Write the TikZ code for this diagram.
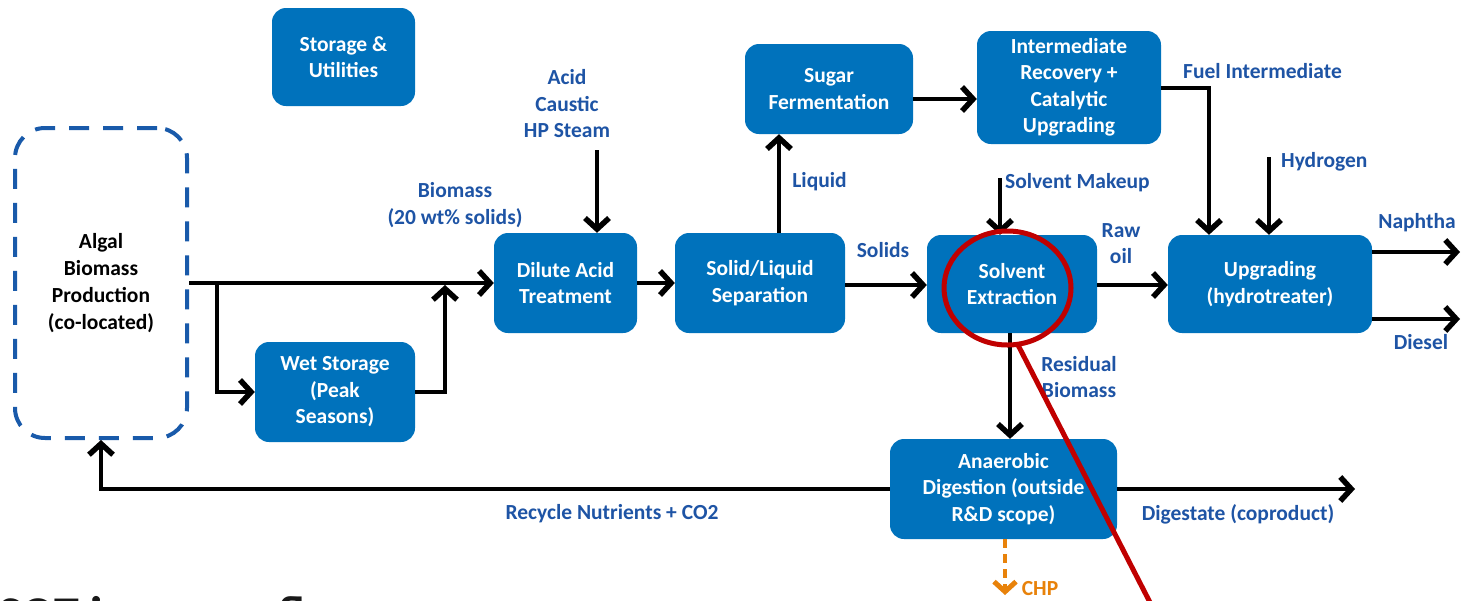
\documentclass[tikz,border=0pt]{standalone}
\usepackage{fontspec}
\setmainfont{Carlito}
\usetikzlibrary{arrows.meta}
\definecolor{boxblue}{RGB}{0,114,188}
\definecolor{lblblue}{RGB}{30,84,165}
\definecolor{dashblue}{RGB}{25,90,170}
\definecolor{chporange}{RGB}{232,130,10}
\definecolor{markred}{RGB}{192,0,0}
\begin{document}
\begin{tikzpicture}[x=1pt,y=-1pt,
  box/.style={fill=boxblue, rounded corners=14pt, text=white, align=center,
    font=\fontsize{21.5}{26.5}\selectfont\bfseries, inner sep=0pt},
  lbl/.style={text=lblblue, align=center,
    font=\fontsize{21.5}{26.5}\selectfont\bfseries, inner sep=0pt},
  flow/.style={line width=4pt, -{Straight Barb[length=11pt,width=24pt,line width=5.5pt]}},
  chpflow/.style={chporange, line width=4pt, dash pattern=on 9pt off 6pt,
    -{Straight Barb[length=10pt,width=22pt,line width=5pt]}}]
\clip (0,0) rectangle (1461,600);
\fill[white] (0,0) rectangle (1461,600);

% process blocks
\node[box, minimum width=143pt, minimum height=98pt] (stor) at (343.5,57) {Storage \&\\Utilities};
\node[draw=dashblue, line width=4pt, dash pattern=on 20pt off 14pt, rounded corners=30pt,
  minimum width=172pt, minimum height=310pt, inner sep=0pt, align=center,
  font=\fontsize{21.5}{27}\selectfont\bfseries] (alg) at (101,283)
  {Algal\\Biomass\\Production\\(co-located)};
\node[box, minimum width=160pt, minimum height=100pt] (wet) at (335,392) {Wet Storage\\(Peak\\Seasons)};
\node[box, minimum width=143pt, minimum height=100pt] (dil) at (565.5,283) {Dilute Acid\\Treatment};
\node[box, minimum width=170pt, minimum height=100pt] (sl) at (760,283) {Solid/Liquid\\Separation};
\node[box, minimum width=168pt, minimum height=90pt] (sug) at (829,89) {Sugar\\Fermentation};
\node[box, minimum width=184pt, minimum height=113pt] (int) at (1069,87.5) {Intermediate\\Recovery +\\Catalytic\\Upgrading};
\node[box, minimum width=170pt, minimum height=98pt] (solv) at (1012,284) {Solvent\\Extraction};
\node[box, minimum width=204pt, minimum height=98pt] (upg) at (1270,284) {Upgrading\\(hydrotreater)};
\node[box, minimum width=227pt, minimum height=100pt] (ana) at (1003.5,489) {Anaerobic\\Digestion (outside\\R\&D scope)};

% free ends of streams
\coordinate (br1) at (217,283);
\coordinate (br2) at (445,285);
\coordinate (acidin) at (597,150);
\coordinate (makeup) at (1000,178);
\coordinate (h2in) at (1269,157);
\coordinate (naph) at (1460,252);
\coordinate (dies) at (1460,319);
\coordinate (dig) at (1355,489);
\coordinate (chp) at (1005,595);

% streams
\draw[flow] (alg.east) -- (dil.west);
\draw[flow] (br1) |- (wet.west);
\draw[flow] (wet.east) -| (br2);
\draw[flow] (acidin) -- (acidin |- dil.north);
\draw[flow] (dil.east) -- (sl.west);
\draw[flow] ([xshift=19pt]sl.north) -- ([xshift=19pt]sl.north |- sug.south);
\draw[flow] ([yshift=-10pt]sug.east) -- ([yshift=-10pt]sug.east -| int.west);
\draw[flow] ([yshift=-2pt]sl.east) -- ([yshift=-2pt]sl.east -| solv.west);
\draw[flow] (makeup) -- (makeup |- solv.north);
\draw[flow] (int.east) -| ([xshift=-61pt]upg.north);
\draw[flow] (h2in) -- (h2in |- upg.north);
\draw[flow] ([yshift=-1pt]solv.east) -- ([yshift=-1pt]solv.east -| upg.west);
\draw[flow] (naph -| upg.east) -- (naph);
\draw[flow] (dies -| upg.east) -- (dies);
\draw[flow] ([xshift=-2pt]solv.south) -- ([xshift=-2pt]solv.south |- ana.north);
\draw[flow] (ana.east) -- (dig);
\draw[flow] (ana.west) -| (alg.south);
\draw[chpflow] (chp |- ana.south) -- (chp);

% stream labels
\node[lbl] (lbio) at (455,205) {Biomass\\(20 wt\% solids)};
\node[lbl] (lacid) at (567,104) {Acid\\Caustic\\HP Steam};
\node[lbl] (lliq) at (819.5,182) {Liquid};
\node[lbl] (lsol) at (883,250) {Solids};
\node[lbl, anchor=west] (lmake) at (1005,183) {Solvent Makeup};
\node[lbl, anchor=west] (lfuel) at (1183,71) {Fuel Intermediate};
\node[lbl, anchor=west] (lh2) at (1281,162) {Hydrogen};
\node[lbl] (lraw) at (1121,243.5) {Raw\\oil};
\node[lbl] (lnaph) at (1417,223) {Naphtha};
\node[lbl] (ldies) at (1421,342) {Diesel};
\node[lbl] (lres) at (1079,377) {Residual\\Biomass};
\node[lbl] (ldig) at (1238,514) {Digestate (coproduct)};
\node[lbl] (lrec) at (612,514) {Recycle Nutrients + CO2};
\node[lbl, text=chporange] (lchp) at (1040,589) {CHP};

% slide title running off the lower edge
\node[anchor=base west, inner sep=0pt, text=black!90,
  font=\fontsize{50}{50}\selectfont\bfseries] (title) at (-2,631) {SOT in a new flow};

% red highlight
\draw[markred, line width=5pt] (1007.5,288) ellipse [x radius=63.5pt, y radius=57pt];
\draw[markred, line width=5pt] (1018,345) -- (1159,620);
\end{tikzpicture}
\end{document}
